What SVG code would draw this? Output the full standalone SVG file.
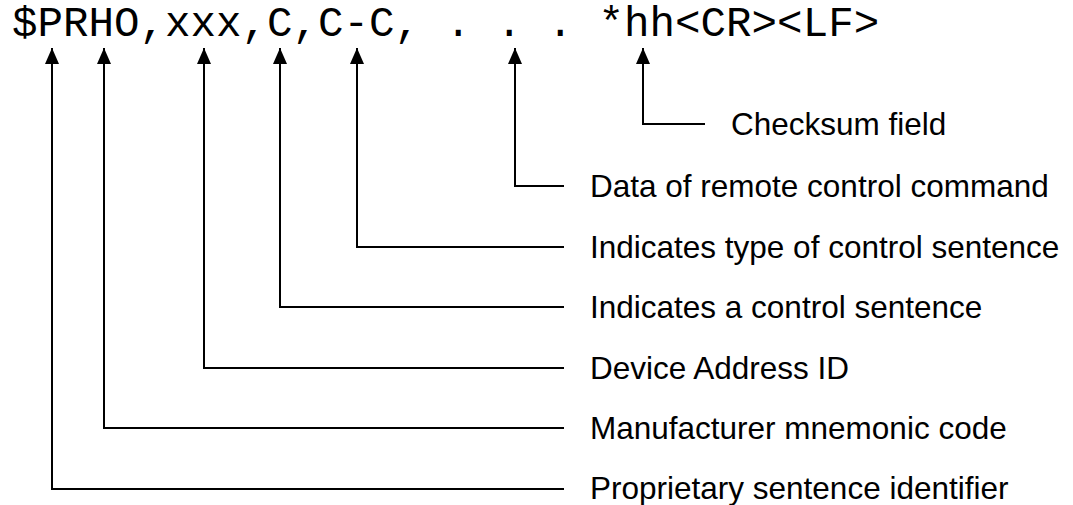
<svg xmlns="http://www.w3.org/2000/svg" width="1073" height="505" viewBox="0 0 1073 505">
<defs>
<style>
.code{font-family:"Courier New","Nimbus Mono PS","FreeMono","Liberation Mono",monospace;font-size:42.5px;fill:#000;}
.lbl{font-family:"Liberation Sans",Arial,sans-serif;font-size:31.5px;fill:#000;}
.conn{fill:none;stroke:#000;stroke-width:2;}
</style>
<marker id="ah" viewBox="0 0 16 14" refX="16" refY="7" markerWidth="16" markerHeight="14" markerUnits="userSpaceOnUse" orient="auto-start-reverse">
<path d="M0,0 L16,7 L0,14 Z" fill="#000"/>
</marker>
</defs>
<rect width="1073" height="505" fill="#fff"/>
<g id="sentence"><text class="code" x="12" y="36" xml:space="preserve">$PRHO,xxx,C,C-C, . . . *hh&lt;CR&gt;&lt;LF&gt;</text></g>
<g id="connectors">
<path class="conn" marker-start="url(#ah)" d="M643,48 V124 H705"/>
<path class="conn" marker-start="url(#ah)" d="M515,48 V186 H564"/>
<path class="conn" marker-start="url(#ah)" d="M357,48 V247 H564"/>
<path class="conn" marker-start="url(#ah)" d="M280,48 V307 H564"/>
<path class="conn" marker-start="url(#ah)" d="M204,48 V368 H564"/>
<path class="conn" marker-start="url(#ah)" d="M104,48 V428 H564"/>
<path class="conn" marker-start="url(#ah)" d="M52,48 V489 H564"/>
</g>
<g id="label-checksum"><text class="lbl" x="731" y="135">Checksum field</text></g>
<g id="label-data"><text class="lbl" x="590" y="197">Data of remote control command</text></g>
<g id="label-type"><text class="lbl" x="590" y="258">Indicates type of control sentence</text></g>
<g id="label-control"><text class="lbl" x="590" y="318">Indicates a control sentence</text></g>
<g id="label-device"><text class="lbl" x="590" y="379">Device Address ID</text></g>
<g id="label-manufacturer"><text class="lbl" x="590" y="439">Manufacturer mnemonic code</text></g>
<g id="label-proprietary"><text class="lbl" x="590" y="499">Proprietary sentence identifier</text></g>
</svg>
